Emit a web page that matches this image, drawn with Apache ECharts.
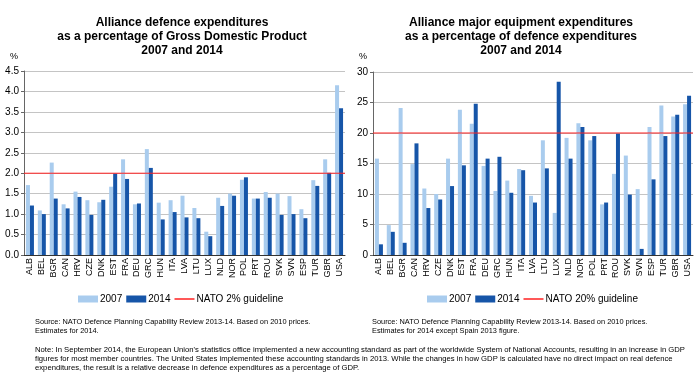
<!DOCTYPE html>
<html><head><meta charset="utf-8">
<script src="https://cdn.jsdelivr.net/npm/echarts@6/dist/echarts.min.js"></script>
<style>html,body{margin:0;padding:0;background:#fff}#c{width:700px;height:379px}</style>
</head><body><div id="c"></div>
<script>
const categories = ['ALB','BEL','BGR','CAN','HRV','CZE','DNK','EST','FRA','DEU','GRC','HUN','ITA','LVA','LTU','LUX','NLD','NOR','POL','PRT','ROU','SVK','SVN','ESP','TUR','GBR','USA'];
const gdp2007 = [1.71,1.09,2.26,1.24,1.55,1.34,1.29,1.67,2.34,1.24,2.59,1.28,1.34,1.45,1.15,0.57,1.40,1.50,1.84,1.38,1.54,1.50,1.44,1.12,1.83,2.34,4.15];
const gdp2014 = [1.21,1.00,1.38,1.14,1.42,0.98,1.35,1.99,1.86,1.26,2.13,0.87,1.05,0.92,0.90,0.46,1.20,1.45,1.90,1.38,1.40,0.98,1.00,0.90,1.69,2.01,3.59];
const equip2007 = [15.8,4.9,24.1,14.9,10.9,10.0,15.8,23.8,21.5,14.6,10.5,12.2,14.1,9.7,18.8,6.9,19.2,21.6,18.8,8.3,13.3,16.3,10.8,21.0,24.5,22.7,24.7];
const equip2014 = [1.75,3.8,2.0,18.3,7.7,9.1,11.3,14.7,24.8,15.8,16.1,10.2,13.9,8.6,14.2,28.4,15.8,21.0,19.5,8.6,19.9,9.9,1.0,12.4,19.5,23.0,26.1];
const gdpGuideline = 2;
const equipGuideline = 20;

const C07 = '#a9ccee', C14 = '#1655a8', RED = '#ff2020';
const FONT = "'Liberation Sans', Arial, sans-serif";
const chart = echarts.init(document.getElementById('c'), null, {renderer: 'canvas'});

function xAxis(gi) {
  return {type: 'category', gridIndex: gi, data: categories,
    axisLine: {lineStyle: {color: '#333', width: 1}},
    axisTick: {show: false},
    axisLabel: {rotate: 90, interval: 0, fontSize: 9, color: '#000', fontFamily: FONT, margin: 3}};
}
// hidden 0..1 span axis used to stretch the guideline across the full plot width
function spanAxis(gi) {
  return {type: 'value', gridIndex: gi, min: 0, max: 1, show: false};
}
function yAxis(gi, max, interval, dec) {
  return {type: 'value', gridIndex: gi, min: 0, max: max, interval: interval,
    axisLine: {show: true, lineStyle: {color: '#666'}},
    axisTick: {show: true, length: 3, lineStyle: {color: '#666'}},
    splitLine: {lineStyle: {color: '#c4c4c4', width: 1}},
    axisLabel: {fontSize: 10, color: '#000', fontFamily: FONT, margin: 5,
      formatter: v => v.toFixed(dec)}};
}
function bars(name, data, color, gi) {
  return {name: name, type: 'bar', xAxisIndex: gi, yAxisIndex: gi, data: data,
    barWidth: 4, barGap: '0%', itemStyle: {color: color}, silent: true, animation: false};
}
function guide(name, val, xi, yi) {
  return {name: name, type: 'line', xAxisIndex: xi, yAxisIndex: yi, data: [[0, val], [1, val]],
    symbol: 'none', showSymbol: false, silent: true, z: 5,
    lineStyle: {color: RED, width: 1}, itemStyle: {color: RED}, animation: false};
}
const lineIcon = 'path://M0,0 L40,0 L40,3 L0,3 Z';
const legendCommon = {itemWidth: 20, itemHeight: 7, itemGap: 4, textStyle: {fontSize: 10, color: '#000', fontFamily: FONT, padding: [0, 0, 0, -3]}, selectedMode: false, padding: 0};

chart.setOption({
  animation: false,
  textStyle: {fontFamily: FONT},
  grid: [
    {left: 24, right: 355, top: 71, bottom: 124, containLabel: false},
    {left: 373, right: 7, top: 72, bottom: 124, containLabel: false}
  ],
  xAxis: [xAxis(0), xAxis(1), spanAxis(0), spanAxis(1)],
  yAxis: [yAxis(0, 4.5, 0.5, 1), yAxis(1, 30, 5, 0)],
  legend: [
    Object.assign({left: 78, top: 294, data: [{name: '2007', icon: 'rect'}, {name: '2014', icon: 'rect'}, {name: 'NATO 2% guideline', icon: lineIcon, itemStyle: {color: RED}}]}, legendCommon),
    Object.assign({left: 427, top: 294, data: [{name: '2007', icon: 'rect'}, {name: '2014', icon: 'rect'}, {name: 'NATO 20% guideline', icon: lineIcon, itemStyle: {color: RED}}]}, legendCommon)
  ],
  series: [
    bars('2007', gdp2007, C07, 0), bars('2014', gdp2014, C14, 0), guide('NATO 2% guideline', gdpGuideline, 2, 0),
    bars('2007', equip2007, C07, 1), bars('2014', equip2014, C14, 1), guide('NATO 20% guideline', equipGuideline, 3, 1)
  ],
  graphic: [
    {type: 'text', x: 182, y: 16, style: {text: 'Alliance defence expenditures\nas a percentage of Gross Domestic Product\n2007 and 2014', font: 'bold 12px ' + FONT, fill: '#000', align: 'center', lineHeight: 14}},
    {type: 'text', x: 521, y: 16, style: {text: 'Alliance major equipment expenditures\nas a percentage of defence expenditures\n2007 and 2014', font: 'bold 12px ' + FONT, fill: '#000', align: 'center', lineHeight: 14}},
    {type: 'text', x: 10, y: 52, style: {text: '%', font: '9px ' + FONT, fill: '#000'}},
    {type: 'text', x: 359, y: 52, style: {text: '%', font: '9px ' + FONT, fill: '#000'}},
    {type: 'text', x: 35, y: 317, style: {text: 'Source: NATO Defence Planning Capability Review 2013-14. Based on 2010 prices.\nEstimates for 2014.', font: '7.4px ' + FONT, fill: '#000', lineHeight: 9}},
    {type: 'text', x: 372, y: 317, style: {text: 'Source: NATO Defence Planning Capability Review 2013-14. Based on 2010 prices.\nEstimates for 2014 except Spain 2013 figure.', font: '7.4px ' + FONT, fill: '#000', lineHeight: 9}},
    {type: 'text', x: 35, y: 345, style: {text: "Note: In September 2014, the European Union's statistics office implemented a new accounting standard as part of the worldwide System of National Accounts, resulting in an increase in GDP\nfigures for most member countries. The United States implemented these accounting standards in 2013. While the changes in how GDP is calculated have no direct impact on real defence\nexpenditures, the result is a relative decrease in defence expenditures as a percentage of GDP.", font: '7.7px ' + FONT, fill: '#000', lineHeight: 9}}
  ]
});
</script></body></html>
